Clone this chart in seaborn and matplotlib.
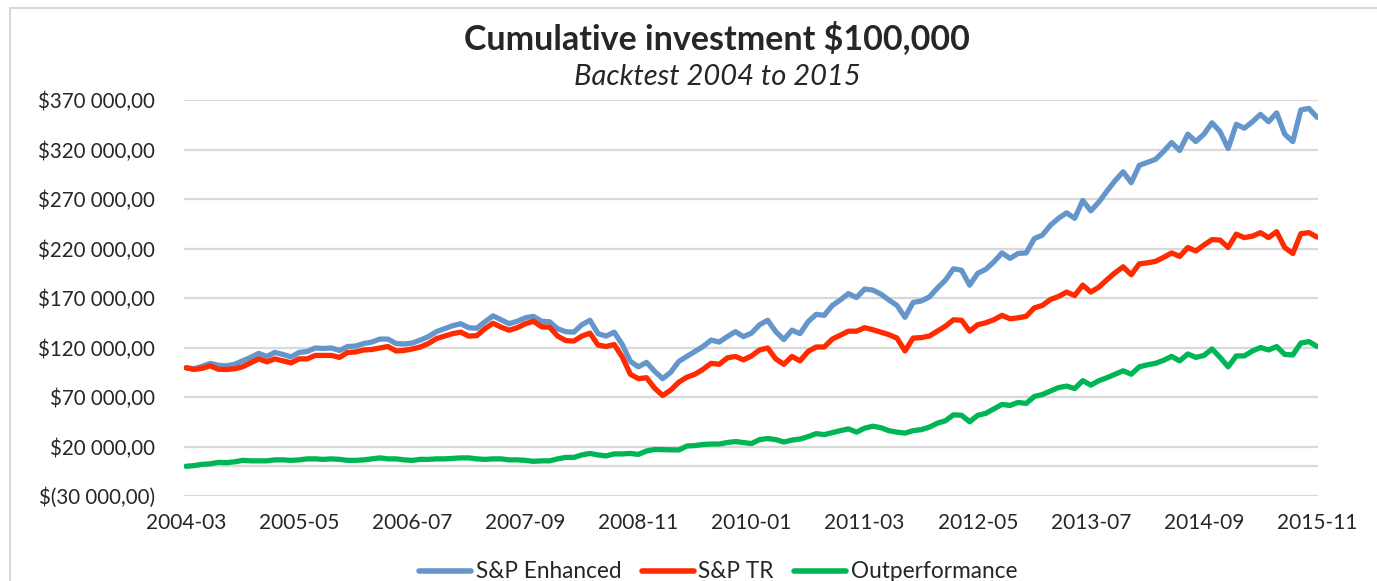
import numpy as np
import pandas as pd
import matplotlib
matplotlib.use("Agg")
import matplotlib.pyplot as plt
import seaborn as sns
from matplotlib.patches import Rectangle
from matplotlib.lines import Line2D

# ---------------- data (values in thousands of $) ----------------
tick_labels = ["2004-03", "2005-05", "2006-07", "2007-09", "2008-11", "2010-01",
               "2011-03", "2012-05", "2013-07", "2014-09", "2015-11"]
series_names = ["S&P Enhanced", "S&P TR", "Outperformance"]

enhanced = [99.5, 98.5, 101, 104, 102, 101.5, 103, 106.5, 110, 114,
            111, 115, 113, 110.5, 115, 116, 119.5, 119, 119.5, 117,
            121, 121.5, 124, 125.5, 128.5, 128.5, 124, 123.5, 124.5, 127.5,
            131, 136, 139, 142, 144, 140, 139.5, 146, 152, 148,
            144, 146.5, 150, 151.5, 146.5, 146, 139, 136, 135.5, 143,
            147.5, 134, 131.5, 135.5, 123, 106, 100.5, 105, 96, 88.5,
            95, 106, 111, 116, 121, 127.5, 125.5, 131, 136, 131,
            134.5, 143, 147.5, 136, 128, 137.5, 134, 146, 153.5, 152.5,
            162.5, 168, 174.5, 170.5, 179, 178, 174, 168, 162.5, 150.5,
            165.5, 167, 171, 180, 188, 199.5, 198, 183, 195, 199,
            206.5, 215.5, 210, 215, 215.5, 230, 233.5, 243.5, 250.5, 256,
            250.5, 268.5, 258, 267, 278, 288.5, 297.5, 286.5, 304, 307,
            310, 318, 327, 319, 335.5, 328, 335.5, 347, 338, 321,
            345.5, 341.5, 348, 355.5, 348, 357, 335.5, 328, 360, 361.5,
            352.5]

sp_tr = [99.5, 97.8, 99, 101.5, 98, 97.8, 98.5, 100.5, 104.5, 108.5,
         105.5, 108.5, 106.5, 104.5, 108.5, 108.5, 112, 112, 112, 110,
         115, 115.5, 117.5, 118, 119.5, 121, 116.5, 117, 118.5, 120.5,
         124, 129, 131.5, 134, 135.5, 131.5, 132, 139, 144.5, 140.5,
         137.5, 140, 144, 146.5, 141, 140.5, 131.5, 127, 126.5, 131.5,
         134.5, 122.5, 121, 123, 110.5, 93, 88.5, 89.5, 79, 71.5,
         77, 85, 90, 93, 98, 104, 103, 109.5, 111, 107.5,
         111.5, 117.5, 119.5, 108.5, 103, 111, 106.5, 116, 120.5, 120.5,
         128.5, 132.5, 136.5, 136.5, 140, 138, 135.5, 133, 129.5, 116.5,
         129.5, 130, 131.5, 136.5, 141.5, 148, 147.5, 136.5, 143, 145,
         148, 152.5, 149, 150, 151.5, 160, 162.5, 168.5, 171.5, 176,
         172.5, 183, 176, 181, 188.5, 195.5, 201.5, 193.5, 204.5, 205.5,
         207, 211, 215.5, 212, 221, 217.5, 223.5, 229, 228.5, 221,
         234.5, 231, 232.5, 236, 231, 237, 221, 215, 235, 236,
         231.5]

outperf = [0, 0.7, 2, 2.5, 4, 3.7, 4.5, 6, 5.5, 5.5,
           5.5, 6.5, 6.5, 6, 6.5, 7.5, 7.5, 7, 7.5, 7,
           6, 6, 6.5, 7.5, 8.5, 7.5, 7.5, 6.5, 6, 7,
           7, 7.5, 7.5, 8, 8.5, 8.5, 7.5, 7, 7.5, 7.5,
           6.5, 6.5, 6, 5, 5.5, 5.5, 7.5, 9, 9, 11.5,
           13, 11.5, 10.5, 12.5, 12.5, 13, 12, 15.5, 17, 16.8,
           16.5, 16.5, 20.5, 21, 22, 22.5, 22.5, 24, 25, 24,
           23, 27, 28, 27, 24.5, 26.5, 27.5, 30, 33, 32,
           34, 36, 37.8, 34.5, 38.5, 40.5, 39, 36, 34.5, 33.5,
           36, 37, 39.5, 43.5, 46, 52, 51.5, 45, 51.5, 53.5,
           58, 62.5, 61.5, 64.5, 63.5, 70.5, 72.5, 76, 79.5, 81,
           78.5, 86.5, 82, 86.5, 89.5, 93, 96.5, 93, 100.5, 102.5,
           104, 107, 111, 106.5, 113.5, 110, 112, 118.5, 110, 100.5,
           111.5, 111.5, 116.5, 120, 117.5, 121, 113, 112.5, 124.5, 126,
           121]

y_ticks = [-30000, 20000, 70000, 120000, 170000, 220000, 270000, 320000, 370000]
y_tick_labels = ["$(30 000,00)", "$20 000,00", "$70 000,00", "$120 000,00",
                 "$170 000,00", "$220 000,00", "$270 000,00", "$320 000,00",
                 "$370 000,00"]

title = "Cumulative investment $100,000"
subtitle = "Backtest 2004 to 2015"

# ---------------- build table ----------------
n = len(enhanced)
month_idx = np.arange(n)
df = pd.concat([
    pd.DataFrame({"month": month_idx, "value": np.array(enhanced) * 1000, "series": series_names[0]}),
    pd.DataFrame({"month": month_idx, "value": np.array(sp_tr) * 1000, "series": series_names[1]}),
    pd.DataFrame({"month": month_idx, "value": np.array(outperf) * 1000, "series": series_names[2]}),
], ignore_index=True)

colors = {"S&P Enhanced": "#6596CB", "S&P TR": "#FF2A00", "Outperformance": "#00B556"}

# ---------------- plot ----------------
sns.set_theme(style="white")
plt.rcParams["font.family"] = ["Lato", "DejaVu Sans"]

W, H = 1377, 581
fig = plt.figure(figsize=(W / 100, H / 100), dpi=100)
left, right, top, bottom = 184, 1318, 100, 496
ax = fig.add_axes([left / W, 1 - bottom / H, (right - left) / W, (bottom - top) / H])

# chart-area frame (Excel-style)
fig.patches.append(Rectangle((10 / W, -0.1), 2.0, 1 - 8 / H + 0.1, transform=fig.transFigure,
                             fill=False, edgecolor="#D9D9D9", linewidth=1.5, zorder=0))

# grid lines
for yv in y_ticks:
    ax.axhline(yv, color="#D9D9D9", linewidth=1.6, zorder=0)
ax.axhline(0, color="#D9D9D9", linewidth=1.6, zorder=0)

sns.lineplot(data=df, x="month", y="value", hue="series", palette=colors,
             linewidth=3.8, ax=ax, legend=False, zorder=3)
for line in ax.lines:
    line.set_solid_joinstyle("round")
    line.set_solid_capstyle("round")

ax.set_xlim(-0.25, n - 1 + 0.12)
ax.set_ylim(-30000, 370000)
ax.set_yticks(y_ticks)
ax.set_yticklabels(y_tick_labels, fontsize=14.8)
ax.set_xticks(np.arange(0, n, 14))
ax.set_xticklabels(tick_labels, fontsize=15)
ax.tick_params(axis="y", length=0, pad=21)
ax.tick_params(axis="x", length=0, pad=12)
ax.set_xlabel("")
ax.set_ylabel("")
for s in ax.spines.values():
    s.set_visible(False)
ax.grid(False)

fig.text(717 / W, 1 - 38 / H, title, ha="center", va="center", fontsize=24.5, fontweight="bold")
fig.text(717 / W, 1 - 77 / H, subtitle, ha="center", va="center", fontsize=21, style="italic")

handles = [Line2D([0], [0], color=colors[s], linewidth=4, solid_capstyle="round") for s in series_names]
fig.legend(handles, series_names, loc="center", bbox_to_anchor=(718 / W, 1 - 572 / H), ncol=3,
           frameon=False, fontsize=16.3, handlelength=2.3, columnspacing=0.9, handletextpad=0.2)

fig.savefig("out.png", dpi=100)
